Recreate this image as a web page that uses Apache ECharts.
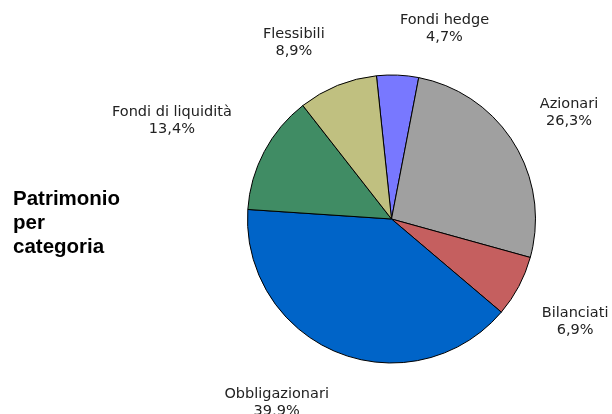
<!DOCTYPE html>
<html>
<head>
<meta charset="utf-8">
<script src="https://cdn.jsdelivr.net/npm/echarts@6/dist/echarts.min.js"></script>
<style>html,body{margin:0;padding:0;background:#fff}#c{width:612px;height:414px}</style>
</head>
<body>
<div id="c"></div>
<script>
const categories = ['Fondi hedge', 'Azionari', 'Bilanciati', 'Obbligazionari', 'Fondi di liquidità', 'Flessibili'];
const values = [4.7, 26.3, 6.9, 39.9, 13.4, 8.9];
const valueLabels = ['4,7%', '26,3%', '6,9%', '39,9%', '13,4%', '8,9%'];

const colors = ['#7878FF', '#A0A0A0', '#C55F5F', '#0064C8', '#408C64', '#C0C080'];
const labelOffsets = [[44, 20], [-1, 4], [-2, 4], [-36, -11], [-34, 0], [-19, 18]];

const chart = echarts.init(document.getElementById('c'), null, {renderer: 'canvas'});
const center = [391.5, 219];
const START = 96;

chart.setOption({
  animation: false,
  title: {
    text: 'Patrimonio\nper\ncategoria',
    left: 8, top: 182,
    textStyle: {fontFamily: 'Liberation Sans', fontWeight: 'bold', fontSize: 20.5, lineHeight: 24, color: '#000'}
  },
  series: [
    {
      type: 'pie',
      center: center,
      radius: 144,
      startAngle: START,
      clockwise: true,
      silent: true,
      label: {show: false},
      labelLine: {show: false},
      itemStyle: {borderColor: '#000', borderWidth: 1},
      data: categories.map((c, i) => ({name: c, value: values[i], itemStyle: {color: colors[i]}}))
    },
    {
      type: 'pie',
      center: center,
      radius: [200, 214],
      startAngle: START,
      clockwise: true,
      silent: true,
      itemStyle: {color: 'rgba(0,0,0,0)'},
      labelLine: {show: false},
      label: {
        show: true,
        position: 'inside',
        rotate: 0,
        fontFamily: 'DejaVu Sans',
        fontSize: 14.5,
        lineHeight: 17,
        color: '#222',
        align: 'center',
        formatter: p => p.name + '\n' + valueLabels[p.dataIndex]
      },
      data: categories.map((c, i) => ({name: c, value: values[i], label: {offset: labelOffsets[i]}}))
    }
  ]
});
</script>
</body>
</html>
